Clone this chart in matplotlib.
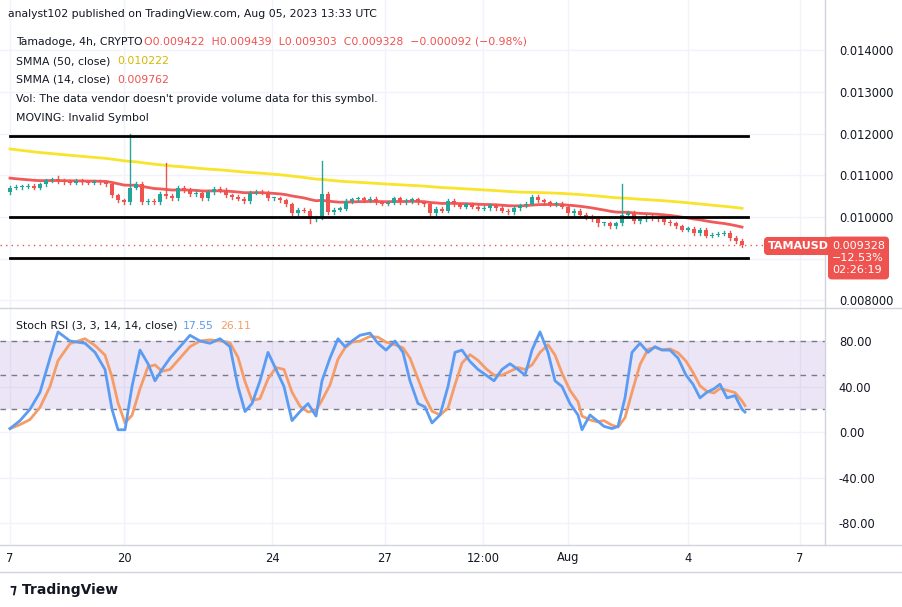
import matplotlib
matplotlib.use("Agg")
import matplotlib.pyplot as plt
import numpy as np
from matplotlib.patches import Rectangle

closes = [10.70,10.72,10.73,10.75,10.70,10.78,10.88,10.90,10.86,10.84,
          10.82,10.86,10.83,10.82,10.84,10.83,10.78,10.52,10.40,10.35,
          10.70,10.80,10.35,10.38,10.35,10.55,10.50,10.45,10.70,10.65,
          10.55,10.58,10.45,10.60,10.68,10.65,10.52,10.48,10.44,10.38,
          10.58,10.60,10.58,10.45,10.45,10.40,10.30,10.10,10.18,10.15,
          9.95,9.98,10.55,10.12,10.18,10.20,10.38,10.42,10.45,10.40,
          10.43,10.35,10.32,10.34,10.45,10.35,10.38,10.42,10.35,10.30,
          10.10,10.20,10.15,10.38,10.30,10.25,10.30,10.25,10.20,10.22,
          10.28,10.22,10.15,10.12,10.22,10.28,10.32,10.48,10.40,10.35,
          10.30,10.32,10.25,10.10,10.15,10.05,10.00,9.95,9.85,9.85,
          9.78,9.85,10.05,10.10,9.90,9.95,10.00,9.98,9.95,9.88,
          9.85,9.78,9.70,9.72,9.62,9.70,9.55,9.58,9.60,9.62,
          9.50,9.422,9.328]
first_open = 10.60
spike_high = {20: 12.0, 26: 11.3, 52: 11.35, 102: 10.80, 8: 10.98}
spike_low = {20: 10.30, 50: 9.85, 52: 9.95, 98: 9.78}
smma50_seed, smma14_seed = 11.65, 10.95

k_x = [10,20,30,40,50,58,70,85,95,105,112,118,125,132,140,148,155,162,170,180,190,200,210,220,230,238,245,252,260,268,276,284,292,300,308,316,322,330,338,345,352,360,370,378,386,395,403,410,418,425,432,440,448,455,462,470,478,486,494,502,510,518,525,532,540,548,555,562,570,578,582,590,597,604,612,618,625,632,640,648,655,662,670,678,686,693,700,707,714,720,727,735,742,745]
k_val = [3,10,20,35,65,88,80,78,70,55,20,2,2,40,72,60,45,55,65,75,85,80,78,82,75,40,18,25,45,70,55,40,10,18,25,14,45,65,82,75,80,85,87,78,72,80,70,45,25,22,8,15,40,70,72,62,55,50,45,55,60,55,50,72,88,70,45,40,25,15,2,15,10,5,3,5,30,70,78,70,75,72,72,65,50,42,30,35,38,42,30,32,20,17.55]

levels = [11.95, 10.00, 9.02]
xtick_labels = ["7", "20", "24", "27", "12:00", "Aug", "4", "7"]
xtick_px = [10, 124, 272, 385, 483, 568, 688, 800]
price_ticks = [8.0, 10.0, 11.0, 12.0, 13.0, 14.0]
grid_prices = [8.0, 9.0, 10.0, 11.0, 12.0, 13.0, 14.0]
stoch_ticks = [-80, -40, 0, 40, 80]

GREEN, RED = "#26a69a", "#ef5350"
W, H = 902, 607
fig = plt.figure(figsize=(W/100, H/100), dpi=100)
fig.patch.set_facecolor("white")
to_idx = lambda px: (px - 10) / 6.0
xl = (to_idx(0), to_idx(825))

ax = fig.add_axes([0, 1-308/H, 825/W, 308/H])
ax2 = fig.add_axes([0, 1-545/H, 825/W, 237/H])
for a in (ax, ax2):
    a.set_xlim(*xl)
    for s in a.spines.values():
        s.set_visible(False)
    a.tick_params(length=0)
    a.set_xticks([to_idx(p) for p in xtick_px])
    a.set_xticklabels([])
    a.grid(True, axis="x", color="#f0f3fa", lw=1)
    a.set_axisbelow(True)
ax.set_ylim(7.82, 15.2)
ax2.set_ylim(-99.3, 109)
for g in grid_prices:
    ax.axhline(g, color="#f0f3fa", lw=1, zorder=0)
ax2.grid(True, axis="y", color="#f0f3fa", lw=1)

ax.set_yticks(price_ticks)
ax.yaxis.tick_right()
ax.set_yticklabels([f"{v/1000:.6f}" for v in price_ticks], fontsize=8.3, color="#131722")
ax.tick_params(axis="y", pad=10)
ax2.set_yticks(stoch_ticks)
ax2.yaxis.tick_right()
ax2.set_yticklabels([f"{v:.2f}" for v in stoch_ticks], fontsize=8.3, color="#131722")
ax2.tick_params(axis="y", pad=10)

opens = [first_open] + closes[:-1]
for i, (o, c) in enumerate(zip(opens, closes)):
    col = GREEN if c >= o else RED
    hi = spike_high.get(i, max(o, c) + 0.04)
    lo = spike_low.get(i, min(o, c) - 0.04)
    ax.plot([i, i], [lo, hi], color=col, lw=1, zorder=3)
    ax.add_patch(Rectangle((i-0.38, min(o, c)), 0.76, max(abs(c-o), 0.025), color=col, zorder=3, lw=0))

def smma(vals, n, seed):
    out, s = [], seed
    for v in vals:
        s = (s*(n-1)+v)/n
        out.append(s)
    return out
idx = np.arange(len(closes))
ax.plot(idx, smma(closes, 50, smma50_seed), color="#f7e42b", lw=2, zorder=2)
ax.plot(idx, smma(closes, 14, smma14_seed), color="#f05a5a", lw=2, zorder=2)
for lv in levels:
    ax.plot([0, len(closes)], [lv, lv], color="black", lw=2, zorder=4)
ax.axhline(closes[-1], color=RED, lw=1, ls=(0, (1, 3)), zorder=1)

fig.text(768/W, 1-246/H, "TAMAUSD", color="white", fontsize=8, fontweight="bold", va="center",
         bbox=dict(boxstyle="round,pad=0.3", fc=RED, ec=RED))
fig.text(832/W, 1-258/H, "0.009328\n−12.53%\n02:26:19", color="white", fontsize=8, va="center",
         linespacing=1.3, bbox=dict(boxstyle="round,pad=0.3", fc=RED, ec=RED))

ax2.axhspan(20, 80, color="#7e57c2", alpha=0.15, lw=0)
for lv in (80, 50, 20):
    ax2.axhline(lv, color="#787b86", lw=1, ls=(0, (4, 4)))
kx = [to_idx(p) for p in k_x]
kv = np.array(k_val, float)
dv = np.array([kv[max(0, i-2):i+1].mean() for i in range(len(kv))])
ax2.plot(kx, dv, color="#f59d68", lw=2, zorder=3)
ax2.plot(kx, kv, color="#5b9cf3", lw=2, zorder=4)

fig.add_artist(plt.Line2D([0, 1], [1-308/H, 1-308/H], color="#d1d4dc", lw=1))
fig.add_artist(plt.Line2D([0, 1], [1-545/H, 1-545/H], color="#d1d4dc", lw=1))
fig.add_artist(plt.Line2D([825/W, 825/W], [1-545/H, 1], color="#d1d4dc", lw=1))
fig.add_artist(plt.Line2D([0, 1], [1-572/H, 1-572/H], color="#d1d4dc", lw=1))

for lab, p in zip(xtick_labels, xtick_px):
    fig.text(p/W, 1-558/H, lab, fontsize=8.3, ha="center", va="center", color="#131722")

fs = 7.8
fig.text(8/W, 1-14/H, "analyst102 published on TradingView.com, Aug 05, 2023 13:33 UTC", fontsize=fs, va="center", color="#131722")
y = 1-42/H
fig.text(16/W, y, "Tamadoge, 4h, CRYPTO", fontsize=fs, va="center", color="#131722")
fig.text(144/W, y, "O0.009422  H0.009439  L0.009303  C0.009328  −0.000092 (−0.98%)", fontsize=fs, va="center", color=RED)
fig.text(16/W, 1-61/H, "SMMA (50, close)", fontsize=fs, va="center", color="#131722")
fig.text(117/W, 1-61/H, "0.010222", fontsize=fs, va="center", color="#d4b800")
fig.text(16/W, 1-80/H, "SMMA (14, close)", fontsize=fs, va="center", color="#131722")
fig.text(117/W, 1-80/H, "0.009762", fontsize=fs, va="center", color=RED)
fig.text(16/W, 1-99/H, "Vol: The data vendor doesn't provide volume data for this symbol.", fontsize=fs, va="center", color="#131722")
fig.text(16/W, 1-118/H, "MOVING: Invalid Symbol", fontsize=fs, va="center", color="#131722")
fig.text(16/W, 1-326/H, "Stoch RSI (3, 3, 14, 14, close)", fontsize=fs, va="center", color="#131722")
fig.text(183/W, 1-326/H, "17.55", fontsize=fs, va="center", color="#5b9cf3")
fig.text(220/W, 1-326/H, "26.11", fontsize=fs, va="center", color="#f59d68")
fig.text(10/W, 1-590/H, "⁊ TradingView", fontsize=10, va="center", color="#131722", fontweight="bold")

fig.savefig("out.png", dpi=100)
